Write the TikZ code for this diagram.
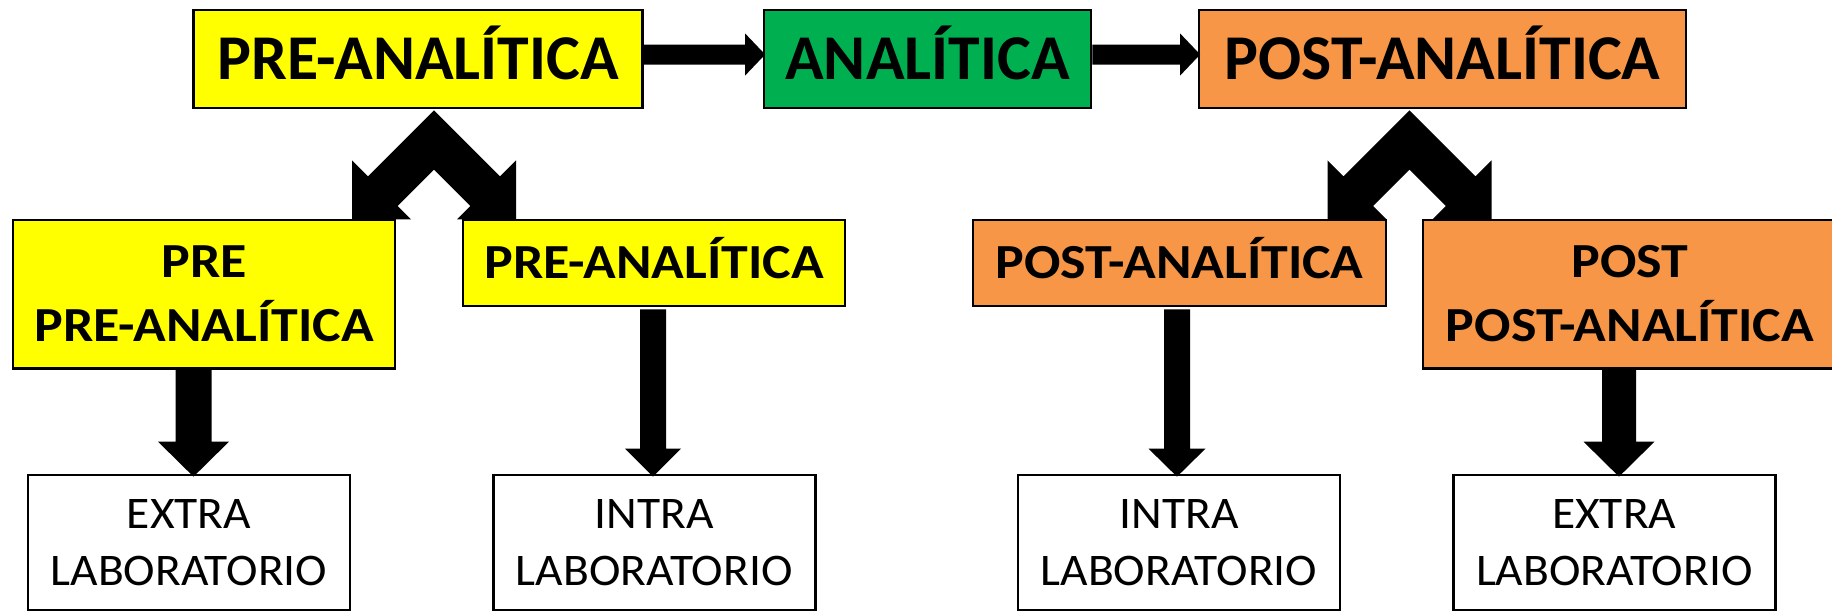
\documentclass[tikz,border=0pt]{standalone}
\usepackage{fontspec}
\setmainfont{Carlito}
\newfontfamily\midfont[FakeStretch=1.1]{Carlito Bold}
\newfontfamily\lowfont[FakeStretch=1.05]{Carlito}
\usetikzlibrary{calc}

\definecolor{preyellow}{HTML}{FFFF00}
\definecolor{anagreen}{HTML}{00B050}
\definecolor{postorange}{HTML}{F79646}

% block arrow pointing down: start, tip, shaft half-width, head half-width, head length
\newcommand{\fatdown}[5]{%
  \fill ($(#1)+(-#3,0)$) -- ($(#2)+(-#3,-#5)$) -- ($(#2)+(-#4,-#5)$) -- (#2)
     -- ($(#2)+(#4,-#5)$) -- ($(#2)+(#3,-#5)$) -- ($(#1)+(#3,0)$) -- cycle;}
% block arrow pointing right: start, tip, shaft half-width, head half-width, head length
\newcommand{\fatright}[5]{%
  \fill ($(#1)+(0,-#3)$) -- ($(#2)+(-#5,-#3)$) -- ($(#2)+(-#5,-#4)$) -- (#2)
     -- ($(#2)+(-#5,#4)$) -- ($(#2)+(-#5,#3)$) -- ($(#1)+(0,#3)$) -- cycle;}
% two-way fork arrow hanging from an apex point
\newcommand{\forkarrow}[1]{%
  \begin{scope}[shift={(#1)}]
    \fill (0,0) -- (-66,66) -- (-82,50) -- (-82,109) -- (-23,109) -- (-36.35,95.65)
      -- (0,59.3) -- (36.35,95.65) -- (23,109) -- (82,109) -- (82,50) -- (66,66) -- cycle;
  \end{scope}}

\begin{document}
\begin{tikzpicture}[x=0.5pt,y=-0.5pt,
  box/.style={draw=black, line width=1.35pt, inner sep=0pt, align=center},
  topbox/.style={box, minimum height=49pt, text height=20pt, text depth=0pt,
    font=\fontsize{31.9}{38}\selectfont\bfseries},
  midbox/.style={box, minimum height=43pt, text height=15.5pt, text depth=0pt,
    font=\fontsize{24.5}{32}\selectfont\midfont},
  tallbox/.style={box, minimum height=74.25pt, text height=47.5pt, text depth=0pt,
    font=\fontsize{24.5}{32}\selectfont\midfont},
  lowbox/.style={box, fill=white, minimum width=161pt, minimum height=67.5pt,
    text height=42.5pt, text depth=0pt, font=\fontsize{22.6}{28.3}\selectfont\lowfont}]

\fill[white] (0,0) rectangle (1832,612);
\useasboundingbox (0,0) rectangle (1832,612);

% top row: the three phases
\node[topbox, fill=preyellow, minimum width=224.5pt] (preA) at (418,59) {PRE-ANALÍTICA};
\node[topbox, fill=anagreen, minimum width=163.5pt] (ana) at (927.5,59) {ANALÍTICA};
\node[topbox, fill=postorange, minimum width=243.5pt] (post) at (1442.5,59) {POST-ANALÍTICA};

% middle row: subdivisions
\node[tallbox, fill=preyellow, minimum width=191pt] (ppre) at (204,294.25) {PRE\\PRE-ANALÍTICA};
\node[midbox, fill=preyellow, minimum width=191pt] (preB) at (654,263) {PRE-ANALÍTICA};
\node[midbox, fill=postorange, minimum width=206.5pt] (postB) at (1179.5,263) {POST-ANALÍTICA};
\node[tallbox, fill=postorange, minimum width=207pt] (ppost) at (1630,294.25) {POST\\POST-ANALÍTICA};

% bottom row: where each subdivision happens
\node[lowbox] (extraL) at (189,542.5) {EXTRA\\LABORATORIO};
\node[lowbox] (intraL) at (654.25,542.5) {INTRA\\LABORATORIO};
\node[lowbox] (intraR) at (1179,542.5) {INTRA\\LABORATORIO};
\node[lowbox] (extraR) at (1614.25,542.5) {EXTRA\\LABORATORIO};

% horizontal flow arrows
\coordinate (h1s) at ($(preA.east)+(0,-4.5)$);
\coordinate (h1t) at ($(ana.west)+(2.5,-4.5)$);
\fatright{h1s}{h1t}{10}{21}{20}
\coordinate (h2s) at ($(ana.east)+(0,-4.5)$);
\coordinate (h2t) at ($(post.west)+(2.5,-4.5)$);
\fatright{h2s}{h2t}{10}{21}{20}

% fork arrows below the outer phases
\coordinate (f1) at ($(preA.south)+(16,1)$);
\forkarrow{f1}
\coordinate (f2) at ($(post.south)+(-33,1)$);
\forkarrow{f2}

% downward arrows to the bottom row
\coordinate (d1s) at ($(ppre.south)+(-10.5,0)$);
\coordinate (d1b) at (d1s |- extraL.north);
\coordinate (d1t) at ($(d1b)+(0,3)$);
\fatdown{d1s}{d1t}{18}{35.5}{35}

\coordinate (d2s) at ($(preB.south)+(-1,2)$);
\coordinate (d2b) at (d2s |- intraL.north);
\coordinate (d2t) at ($(d2b)+(0,3)$);
\fatdown{d2s}{d2t}{13}{28}{28}

\coordinate (d3s) at ($(postB.south)+(-2.5,2)$);
\coordinate (d3b) at (d3s |- intraR.north);
\coordinate (d3t) at ($(d3b)+(0,3)$);
\fatdown{d3s}{d3t}{13}{28.5}{28}

\coordinate (d4s) at ($(ppost.south)+(-11,0)$);
\coordinate (d4b) at (d4s |- extraR.north);
\coordinate (d4t) at ($(d4b)+(0,3)$);
\fatdown{d4s}{d4t}{17}{35.5}{35}

\end{tikzpicture}
\end{document}
